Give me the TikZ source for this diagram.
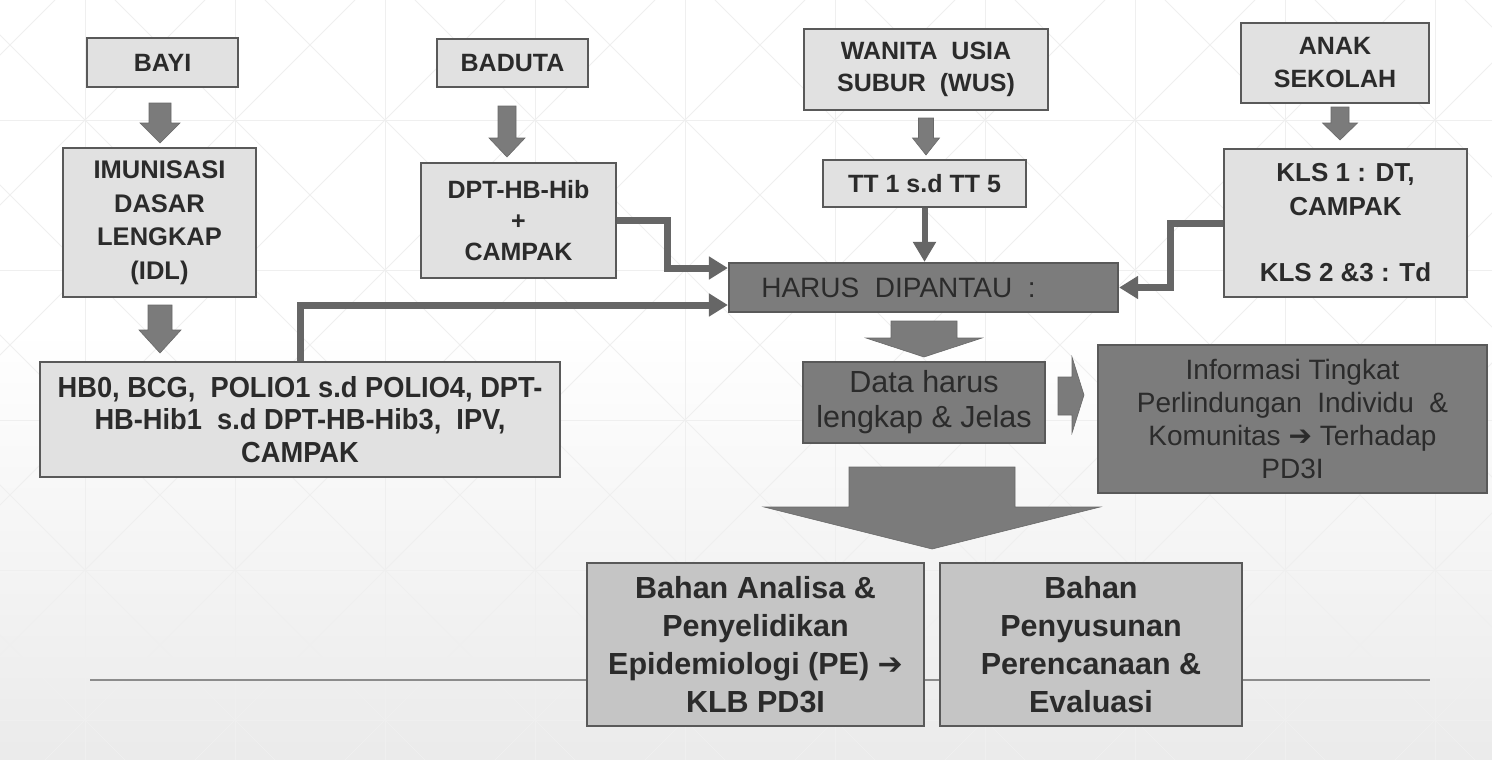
\documentclass[tikz,border=0pt]{standalone}
\usepackage{fontspec}
\setmainfont{Liberation Sans}
\newfontfamily\condfont[FakeStretch=0.94]{Liberation Sans}
\newfontfamily\dejavu{DejaVu Sans}
\usetikzlibrary{arrows.meta,calc}
\definecolor{lightfill}{HTML}{E1E1E1}
\definecolor{darkfill}{HTML}{7C7C7C}
\definecolor{midfill}{HTML}{C5C5C5}
\definecolor{bordercol}{HTML}{595959}
\definecolor{txtcol}{HTML}{2B2B2B}
\definecolor{arrowfill}{HTML}{7B7B7B}
\definecolor{conncol}{HTML}{666666}
\definecolor{gridcol}{HTML}{EFEFEF}
\newcommand\downarr[6]{%
  \filldraw[arrowfill, draw=arrowfill!85!black, line width=0.6pt]
    (#1-#4,#2) -- (#1+#4,#2) -- (#1+#4,#6) -- (#1+#5,#6) -- (#1,#3)
    -- (#1-#5,#6) -- (#1-#4,#6) -- cycle;}
\begin{document}
\begin{tikzpicture}[x=1pt,y=-1pt,
  lbox/.style={draw=bordercol, line width=2.2pt, fill=lightfill, align=center,
    inner sep=0pt, text=txtcol, font=\fontsize{25}{32}\selectfont\bfseries},
  dbox/.style={lbox, fill=darkfill, font=\fontsize{28}{33}\selectfont},
  mbox/.style={lbox, fill=midfill, font=\fontsize{30.5}{38}\selectfont\bfseries},
  conn/.style={draw=conncol, line width=7pt, -{Triangle[length=19pt,width=22pt]}}]
\useasboundingbox (0,0) rectangle (1492,760);
% background
\fill[white] (0,0) rectangle (1492,760);
\shade[top color=white, bottom color=black!8] (0,330) rectangle (1492,760);
\begin{scope}
\clip (0,0) rectangle (1492,760);
\foreach \i in {-1,...,10} \draw[gridcol, line width=1pt] (85+150*\i,0) -- (85+150*\i,760);
\foreach \j in {-1,...,5} \draw[gridcol, line width=1pt] (0,120+150*\j) -- (1492,120+150*\j);
\foreach \m in {-6,...,10} \draw[gridcol, line width=0.8pt] (-35+150*\m,0) -- (-35+150*\m+760,760);
\foreach \m in {-1,...,15} \draw[gridcol, line width=0.8pt] (205+150*\m,0) -- (205+150*\m-760,760);
\end{scope}
\draw[black!45, line width=1.5pt] (90,680) -- (1430,680);
% nodes
\node[lbox, minimum width=151pt, minimum height=49pt] (bayi) at (162.5,62.5) {BAYI};
\node[lbox, minimum width=193pt, minimum height=149pt, font=\fontsize{25.5}{33.5}\selectfont\bfseries] (idl) at (159.5,222.5) {IMUNISASI\\DASAR\\LENGKAP\\(IDL)};
\node[lbox, minimum width=520pt, minimum height=115pt, font=\condfont\fontsize{29}{32.5}\selectfont\bfseries] (hb0) at (300,419.5) {HB0, BCG,\ \ POLIO1 s.d POLIO4, DPT-\\HB-Hib1\ \ s.d DPT-HB-Hib3,\ \ IPV,\\CAMPAK};
\node[lbox, minimum width=151pt, minimum height=48pt] (baduta) at (512.5,63) {BADUTA};
\node[lbox, minimum width=195pt, minimum height=115pt, font=\fontsize{25}{31}\selectfont\bfseries] (dpt) at (518.5,220.5) {DPT-HB-Hib\\+\\CAMPAK};
\node[lbox, minimum width=244pt, minimum height=81pt] (wus) at (926,69.5) {WANITA\ \ USIA\\SUBUR\ \ (WUS)};
\node[lbox, minimum width=203pt, minimum height=47pt] (tt) at (924.5,183.5) {TT 1 s.d TT 5};
\node[lbox, minimum width=188pt, minimum height=80pt, font=\fontsize{25}{33}\selectfont\bfseries] (anak) at (1335,63) {ANAK\\SEKOLAH};
\node[lbox, minimum width=243pt, minimum height=148pt, font=\fontsize{26}{33.3}\selectfont\bfseries] (kls) at (1345.5,223) {KLS 1 : DT,\\CAMPAK\\[33.3pt]KLS 2 \&3 : Td};
\node[dbox, minimum width=389pt, minimum height=49pt, font=\fontsize{28}{32}\selectfont] (harus) at (923.5,287.5) {HARUS\ \ DIPANTAU\ \ :\hspace*{50pt}};
\node[dbox, minimum width=242pt, minimum height=81pt, font=\fontsize{30.5}{35}\selectfont] (data) at (924,402.5) {Data harus\\lengkap \& Jelas};
\node[dbox, minimum width=389pt, minimum height=148pt] (info) at (1292.5,419) {Informasi Tingkat\\Perlindungan\ \ Individu\ \ \&\\Komunitas {\dejavu\bfseries\fontsize{28}{33}\selectfont ➔} Terhadap\\PD3I};
\node[mbox, minimum width=337pt, minimum height=163pt] (analisa) at (755.5,644.5) {Bahan Analisa \&\\Penyelidikan\\Epidemiologi (PE) {\dejavu\bfseries\fontsize{30}{38}\selectfont ➔}\\KLB PD3I};
\node[mbox, minimum width=302pt, minimum height=163pt] (susun) at (1091,644.5) {Bahan\\Penyusunan\\Perencanaan \&\\Evaluasi};
% block arrows
\downarr{160}{103}{143}{11}{20}{123}
\downarr{160}{305}{353}{12}{21}{330}
\downarr{507}{106}{157}{9}{18}{138}
\downarr{926}{118}{155}{7.5}{13.5}{138}
\downarr{1340}{107}{140}{9}{17.5}{123}
\downarr{924}{321}{357}{33}{58}{338}
\downarr{932}{467}{549}{83}{168}{507}
\filldraw[arrowfill, draw=arrowfill!85!black, line width=0.6pt]
  (1058,377) -- (1072,377) -- (1072,357) -- (1084,395) -- (1072,433) -- (1072,415) -- (1058,415) -- cycle;
% connectors
\draw[conn] (dpt.east) -- ++(50,0) |- ([yshift=19.5pt]harus.west);
\draw[conn] (hb0.north) |- ([yshift=-17.5pt]harus.west);
\draw[conn] (kls.west) -- ++(-52,0) |- (harus.east);
\draw[draw=conncol, line width=6pt, -{Triangle[length=20pt,width=22pt]}] (tt.south) -- (tt.south |- harus.north);
\end{tikzpicture}
\end{document}
